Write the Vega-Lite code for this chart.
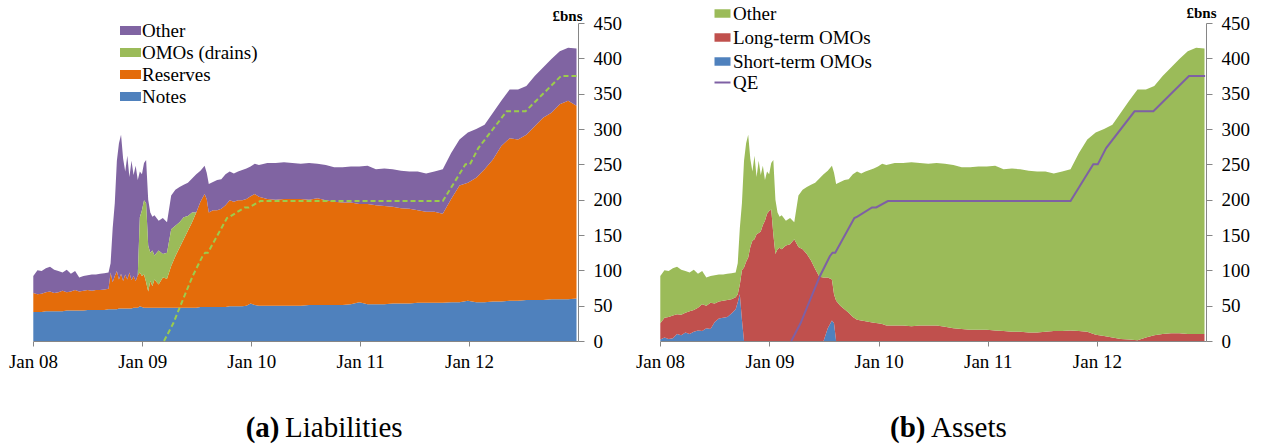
{
"$schema":"https://vega.github.io/schema/vega-lite/v6.json",
"autosize":{"type":"pad"},
"padding":{"left":8,"top":4,"right":5,"bottom":4},
"bounds":"flush",
"spacing":82,
"resolve":{"scale":{"color":"independent","stroke":"independent"},"legend":{"color":"independent","stroke":"independent"}},
"config":{"font":"Liberation Serif, Times New Roman, Times, serif","view":{"stroke":null},"axis":{"grid":false,"labelColor":"#000","domainColor":"#868686","tickColor":"#868686","labelFont":"Liberation Serif, Times New Roman, Times, serif","labelFontSize":19,"titleColor":"#000","titleFont":"Liberation Serif, Times New Roman, Times, serif","labelOverlap":false},"axisY":{"labelOverlap":false},"legend":{"labelFont":"Liberation Serif, Times New Roman, Times, serif","labelFontSize":19,"labelColor":"#000"}},
"datasets":{
"qe":[{"d":"2009-03-15","v":0},{"d":"2009-04-15","v":25},{"d":"2009-05-08","v":49},{"d":"2009-06-19","v":92},{"d":"2009-07-22","v":120},{"d":"2009-07-31","v":125},{"d":"2009-08-09","v":125},{"d":"2009-10-12","v":174},{"d":"2009-10-22","v":176},{"d":"2009-12-10","v":189},{"d":"2009-12-24","v":189},{"d":"2010-02-01","v":198},{"d":"2011-10-05","v":198},{"d":"2011-12-20","v":250},{"d":"2012-01-04","v":250},{"d":"2012-02-01","v":273},{"d":"2012-05-06","v":325},{"d":"2012-07-08","v":325},{"d":"2012-11-04","v":375},{"d":"2012-12-28","v":375}],
"liab":[
{"d":"2008-01-02","s":"Notes","v":41},{"d":"2008-01-02","s":"Reserves","v":27},{"d":"2008-01-02","s":"Other","v":24},
{"d":"2008-01-16","s":"Notes","v":41},{"d":"2008-01-16","s":"Reserves","v":25},{"d":"2008-01-16","s":"Other","v":34},
{"d":"2008-01-30","s":"Notes","v":41},{"d":"2008-01-30","s":"Reserves","v":26},{"d":"2008-01-30","s":"Other","v":32},
{"d":"2008-02-13","s":"Notes","v":42},{"d":"2008-02-13","s":"Reserves","v":27},{"d":"2008-02-13","s":"Other","v":34},
{"d":"2008-02-27","s":"Notes","v":42},{"d":"2008-02-27","s":"Reserves","v":28},{"d":"2008-02-27","s":"Other","v":35},
{"d":"2008-03-12","s":"Notes","v":42},{"d":"2008-03-12","s":"Reserves","v":26},{"d":"2008-03-12","s":"Other","v":33},
{"d":"2008-03-26","s":"Notes","v":42},{"d":"2008-03-26","s":"Reserves","v":27},{"d":"2008-03-26","s":"Other","v":30},
{"d":"2008-04-09","s":"Notes","v":42},{"d":"2008-04-09","s":"Reserves","v":29},{"d":"2008-04-09","s":"Other","v":26},
{"d":"2008-04-23","s":"Notes","v":43},{"d":"2008-04-23","s":"Reserves","v":26},{"d":"2008-04-23","s":"Other","v":32},
{"d":"2008-05-07","s":"Notes","v":43},{"d":"2008-05-07","s":"Reserves","v":27},{"d":"2008-05-07","s":"Other","v":25},
{"d":"2008-05-21","s":"Notes","v":43},{"d":"2008-05-21","s":"Reserves","v":29},{"d":"2008-05-21","s":"Other","v":27},
{"d":"2008-06-04","s":"Notes","v":43},{"d":"2008-06-04","s":"Reserves","v":27},{"d":"2008-06-04","s":"Other","v":20},
{"d":"2008-06-18","s":"Notes","v":43},{"d":"2008-06-18","s":"Reserves","v":28},{"d":"2008-06-18","s":"Other","v":21},
{"d":"2008-07-02","s":"Notes","v":44},{"d":"2008-07-02","s":"Reserves","v":28},{"d":"2008-07-02","s":"Other","v":21},
{"d":"2008-07-16","s":"Notes","v":44},{"d":"2008-07-16","s":"Reserves","v":27},{"d":"2008-07-16","s":"Other","v":23},
{"d":"2008-07-30","s":"Notes","v":44},{"d":"2008-07-30","s":"Reserves","v":28},{"d":"2008-07-30","s":"Other","v":22},
{"d":"2008-08-13","s":"Notes","v":44},{"d":"2008-08-13","s":"Reserves","v":28},{"d":"2008-08-13","s":"Other","v":23},
{"d":"2008-08-27","s":"Notes","v":44},{"d":"2008-08-27","s":"Reserves","v":29},{"d":"2008-08-27","s":"Other","v":23},
{"d":"2008-09-10","s":"Notes","v":45},{"d":"2008-09-10","s":"Reserves","v":29},{"d":"2008-09-10","s":"Other","v":23},
{"d":"2008-09-17","s":"Notes","v":45},{"d":"2008-09-17","s":"Reserves","v":52},{"d":"2008-09-17","s":"Other","v":13},
{"d":"2008-09-24","s":"Notes","v":45},{"d":"2008-09-24","s":"Reserves","v":38},{"d":"2008-09-24","s":"Other","v":77},
{"d":"2008-10-01","s":"Notes","v":45},{"d":"2008-10-01","s":"Reserves","v":47},{"d":"2008-10-01","s":"Other","v":103},
{"d":"2008-10-08","s":"Notes","v":45},{"d":"2008-10-08","s":"Reserves","v":54},{"d":"2008-10-08","s":"Other","v":156},
{"d":"2008-10-15","s":"Notes","v":46},{"d":"2008-10-15","s":"Reserves","v":41},{"d":"2008-10-15","s":"Other","v":193},
{"d":"2008-10-22","s":"Notes","v":46},{"d":"2008-10-22","s":"Reserves","v":49},{"d":"2008-10-22","s":"Other","v":197},
{"d":"2008-10-29","s":"Notes","v":46},{"d":"2008-10-29","s":"Reserves","v":39},{"d":"2008-10-29","s":"Other","v":173},
{"d":"2008-11-05","s":"Notes","v":46},{"d":"2008-11-05","s":"Reserves","v":48},{"d":"2008-11-05","s":"Other","v":146},
{"d":"2008-11-12","s":"Notes","v":46},{"d":"2008-11-12","s":"Reserves","v":41},{"d":"2008-11-12","s":"Other","v":175},
{"d":"2008-11-19","s":"Notes","v":46},{"d":"2008-11-19","s":"Reserves","v":51},{"d":"2008-11-19","s":"Other","v":135},
{"d":"2008-11-26","s":"Notes","v":46},{"d":"2008-11-26","s":"Reserves","v":40},{"d":"2008-11-26","s":"Other","v":169},
{"d":"2008-12-03","s":"Notes","v":47},{"d":"2008-12-03","s":"Reserves","v":45},{"d":"2008-12-03","s":"Other","v":143},
{"d":"2008-12-10","s":"Notes","v":47},{"d":"2008-12-10","s":"Reserves","v":38},{"d":"2008-12-10","s":"Other","v":163},
{"d":"2008-12-17","s":"Notes","v":47},{"d":"2008-12-17","s":"Reserves","v":46},{"d":"2008-12-17","s":"OMOs (drains)","v":0},{"d":"2008-12-17","s":"Other","v":135},
{"d":"2008-12-24","s":"Notes","v":49},{"d":"2008-12-24","s":"Reserves","v":48},{"d":"2008-12-24","s":"OMOs (drains)","v":78},{"d":"2008-12-24","s":"Other","v":65},
{"d":"2008-12-31","s":"Notes","v":48},{"d":"2008-12-31","s":"Reserves","v":44},{"d":"2008-12-31","s":"OMOs (drains)","v":93},{"d":"2008-12-31","s":"Other","v":51},
{"d":"2009-01-07","s":"Notes","v":47},{"d":"2009-01-07","s":"Reserves","v":47},{"d":"2009-01-07","s":"OMOs (drains)","v":105},{"d":"2009-01-07","s":"Other","v":53},
{"d":"2009-01-14","s":"Notes","v":47},{"d":"2009-01-14","s":"Reserves","v":36},{"d":"2009-01-14","s":"OMOs (drains)","v":112},{"d":"2009-01-14","s":"Other","v":61},
{"d":"2009-01-21","s":"Notes","v":47},{"d":"2009-01-21","s":"Reserves","v":23},{"d":"2009-01-21","s":"OMOs (drains)","v":65},{"d":"2009-01-21","s":"Other","v":65},
{"d":"2009-01-28","s":"Notes","v":47},{"d":"2009-01-28","s":"Reserves","v":38},{"d":"2009-01-28","s":"OMOs (drains)","v":40},{"d":"2009-01-28","s":"Other","v":57},
{"d":"2009-02-04","s":"Notes","v":47},{"d":"2009-02-04","s":"Reserves","v":31},{"d":"2009-02-04","s":"OMOs (drains)","v":50},{"d":"2009-02-04","s":"Other","v":48},
{"d":"2009-02-11","s":"Notes","v":47},{"d":"2009-02-11","s":"Reserves","v":40},{"d":"2009-02-11","s":"OMOs (drains)","v":34},{"d":"2009-02-11","s":"Other","v":57},
{"d":"2009-02-25","s":"Notes","v":47},{"d":"2009-02-25","s":"Reserves","v":33},{"d":"2009-02-25","s":"OMOs (drains)","v":48},{"d":"2009-02-25","s":"Other","v":42},
{"d":"2009-03-11","s":"Notes","v":47},{"d":"2009-03-11","s":"Reserves","v":43},{"d":"2009-03-11","s":"OMOs (drains)","v":33},{"d":"2009-03-11","s":"Other","v":51},
{"d":"2009-03-25","s":"Notes","v":47},{"d":"2009-03-25","s":"Reserves","v":41},{"d":"2009-03-25","s":"OMOs (drains)","v":37},{"d":"2009-03-25","s":"Other","v":43},
{"d":"2009-04-08","s":"Notes","v":47},{"d":"2009-04-08","s":"Reserves","v":59},{"d":"2009-04-08","s":"OMOs (drains)","v":52},{"d":"2009-04-08","s":"Other","v":48},
{"d":"2009-04-22","s":"Notes","v":47},{"d":"2009-04-22","s":"Reserves","v":73},{"d":"2009-04-22","s":"OMOs (drains)","v":43},{"d":"2009-04-22","s":"Other","v":51},
{"d":"2009-05-06","s":"Notes","v":47},{"d":"2009-05-06","s":"Reserves","v":85},{"d":"2009-05-06","s":"OMOs (drains)","v":36},{"d":"2009-05-06","s":"Other","v":50},
{"d":"2009-05-20","s":"Notes","v":47},{"d":"2009-05-20","s":"Reserves","v":97},{"d":"2009-05-20","s":"OMOs (drains)","v":31},{"d":"2009-05-20","s":"Other","v":46},
{"d":"2009-06-03","s":"Notes","v":47},{"d":"2009-06-03","s":"Reserves","v":109},{"d":"2009-06-03","s":"OMOs (drains)","v":21},{"d":"2009-06-03","s":"Other","v":47},
{"d":"2009-06-17","s":"Notes","v":47},{"d":"2009-06-17","s":"Reserves","v":121},{"d":"2009-06-17","s":"OMOs (drains)","v":14},{"d":"2009-06-17","s":"Other","v":48},
{"d":"2009-07-01","s":"Notes","v":47},{"d":"2009-07-01","s":"Reserves","v":135},{"d":"2009-07-01","s":"OMOs (drains)","v":0},{"d":"2009-07-01","s":"Other","v":54},
{"d":"2009-07-15","s":"Notes","v":48},{"d":"2009-07-15","s":"Reserves","v":149},{"d":"2009-07-15","s":"Other","v":44},
{"d":"2009-07-29","s":"Notes","v":48},{"d":"2009-07-29","s":"Reserves","v":160},{"d":"2009-07-29","s":"Other","v":40},
{"d":"2009-08-05","s":"Notes","v":48},{"d":"2009-08-05","s":"Reserves","v":153},{"d":"2009-08-05","s":"Other","v":37},
{"d":"2009-08-12","s":"Notes","v":48},{"d":"2009-08-12","s":"Reserves","v":134},{"d":"2009-08-12","s":"Other","v":40},
{"d":"2009-08-26","s":"Notes","v":48},{"d":"2009-08-26","s":"Reserves","v":137},{"d":"2009-08-26","s":"Other","v":40},
{"d":"2009-09-09","s":"Notes","v":48},{"d":"2009-09-09","s":"Reserves","v":137},{"d":"2009-09-09","s":"Other","v":43},
{"d":"2009-09-23","s":"Notes","v":48},{"d":"2009-09-23","s":"Reserves","v":139},{"d":"2009-09-23","s":"Other","v":42},
{"d":"2009-10-07","s":"Notes","v":48},{"d":"2009-10-07","s":"Reserves","v":144},{"d":"2009-10-07","s":"Other","v":44},
{"d":"2009-10-21","s":"Notes","v":49},{"d":"2009-10-21","s":"Reserves","v":150},{"d":"2009-10-21","s":"Other","v":41},
{"d":"2009-11-04","s":"Notes","v":49},{"d":"2009-11-04","s":"Reserves","v":148},{"d":"2009-11-04","s":"Other","v":40},
{"d":"2009-11-18","s":"Notes","v":49},{"d":"2009-11-18","s":"Reserves","v":150},{"d":"2009-11-18","s":"Other","v":41},
{"d":"2009-12-02","s":"Notes","v":49},{"d":"2009-12-02","s":"Reserves","v":150},{"d":"2009-12-02","s":"Other","v":43},
{"d":"2009-12-16","s":"Notes","v":50},{"d":"2009-12-16","s":"Reserves","v":151},{"d":"2009-12-16","s":"Other","v":43},
{"d":"2009-12-30","s":"Notes","v":53},{"d":"2009-12-30","s":"Reserves","v":152},{"d":"2009-12-30","s":"Other","v":42},
{"d":"2010-01-13","s":"Notes","v":51},{"d":"2010-01-13","s":"Reserves","v":157},{"d":"2010-01-13","s":"Other","v":43},
{"d":"2010-01-27","s":"Notes","v":50},{"d":"2010-01-27","s":"Reserves","v":154},{"d":"2010-01-27","s":"Other","v":45},
{"d":"2010-02-24","s":"Notes","v":50},{"d":"2010-02-24","s":"Reserves","v":151},{"d":"2010-02-24","s":"Other","v":51},
{"d":"2010-03-24","s":"Notes","v":50},{"d":"2010-03-24","s":"Reserves","v":150},{"d":"2010-03-24","s":"Other","v":52},
{"d":"2010-04-21","s":"Notes","v":50},{"d":"2010-04-21","s":"Reserves","v":151},{"d":"2010-04-21","s":"Other","v":52},
{"d":"2010-05-19","s":"Notes","v":50},{"d":"2010-05-19","s":"Reserves","v":151},{"d":"2010-05-19","s":"Other","v":51},
{"d":"2010-06-16","s":"Notes","v":50},{"d":"2010-06-16","s":"Reserves","v":151},{"d":"2010-06-16","s":"Other","v":50},
{"d":"2010-07-14","s":"Notes","v":51},{"d":"2010-07-14","s":"Reserves","v":149},{"d":"2010-07-14","s":"Other","v":52},
{"d":"2010-08-11","s":"Notes","v":51},{"d":"2010-08-11","s":"Reserves","v":151},{"d":"2010-08-11","s":"Other","v":49},
{"d":"2010-09-08","s":"Notes","v":51},{"d":"2010-09-08","s":"Reserves","v":148},{"d":"2010-09-08","s":"Other","v":50},
{"d":"2010-10-06","s":"Notes","v":51},{"d":"2010-10-06","s":"Reserves","v":146},{"d":"2010-10-06","s":"Other","v":49},
{"d":"2010-11-03","s":"Notes","v":51},{"d":"2010-11-03","s":"Reserves","v":145},{"d":"2010-11-03","s":"Other","v":50},
{"d":"2010-12-01","s":"Notes","v":52},{"d":"2010-12-01","s":"Reserves","v":144},{"d":"2010-12-01","s":"Other","v":51},
{"d":"2010-12-29","s":"Notes","v":55},{"d":"2010-12-29","s":"Reserves","v":139},{"d":"2010-12-29","s":"Other","v":53},
{"d":"2011-01-26","s":"Notes","v":52},{"d":"2011-01-26","s":"Reserves","v":142},{"d":"2011-01-26","s":"Other","v":54},
{"d":"2011-02-23","s":"Notes","v":52},{"d":"2011-02-23","s":"Reserves","v":140},{"d":"2011-02-23","s":"Other","v":51},
{"d":"2011-03-23","s":"Notes","v":52},{"d":"2011-03-23","s":"Reserves","v":139},{"d":"2011-03-23","s":"Other","v":53},
{"d":"2011-04-20","s":"Notes","v":53},{"d":"2011-04-20","s":"Reserves","v":137},{"d":"2011-04-20","s":"Other","v":53},
{"d":"2011-05-18","s":"Notes","v":53},{"d":"2011-05-18","s":"Reserves","v":135},{"d":"2011-05-18","s":"Other","v":53},
{"d":"2011-06-15","s":"Notes","v":53},{"d":"2011-06-15","s":"Reserves","v":134},{"d":"2011-06-15","s":"Other","v":53},
{"d":"2011-07-13","s":"Notes","v":54},{"d":"2011-07-13","s":"Reserves","v":131},{"d":"2011-07-13","s":"Other","v":55},
{"d":"2011-08-10","s":"Notes","v":54},{"d":"2011-08-10","s":"Reserves","v":129},{"d":"2011-08-10","s":"Other","v":54},
{"d":"2011-09-07","s":"Notes","v":54},{"d":"2011-09-07","s":"Reserves","v":129},{"d":"2011-09-07","s":"Other","v":57},
{"d":"2011-10-05","s":"Notes","v":54},{"d":"2011-10-05","s":"Reserves","v":126},{"d":"2011-10-05","s":"Other","v":63},
{"d":"2011-11-02","s":"Notes","v":55},{"d":"2011-11-02","s":"Reserves","v":146},{"d":"2011-11-02","s":"Other","v":65},
{"d":"2011-11-30","s":"Notes","v":55},{"d":"2011-11-30","s":"Reserves","v":165},{"d":"2011-11-30","s":"Other","v":65},
{"d":"2011-12-28","s":"Notes","v":57},{"d":"2011-12-28","s":"Reserves","v":167},{"d":"2011-12-28","s":"Other","v":71},
{"d":"2012-01-25","s":"Notes","v":55},{"d":"2012-01-25","s":"Reserves","v":176},{"d":"2012-01-25","s":"Other","v":69},
{"d":"2012-02-22","s":"Notes","v":55},{"d":"2012-02-22","s":"Reserves","v":188},{"d":"2012-02-22","s":"Other","v":63},
{"d":"2012-03-21","s":"Notes","v":56},{"d":"2012-03-21","s":"Reserves","v":201},{"d":"2012-03-21","s":"Other","v":66},
{"d":"2012-04-18","s":"Notes","v":56},{"d":"2012-04-18","s":"Reserves","v":220},{"d":"2012-04-18","s":"Other","v":64},
{"d":"2012-05-16","s":"Notes","v":57},{"d":"2012-05-16","s":"Reserves","v":230},{"d":"2012-05-16","s":"Other","v":69},
{"d":"2012-06-13","s":"Notes","v":57},{"d":"2012-06-13","s":"Reserves","v":228},{"d":"2012-06-13","s":"Other","v":71},
{"d":"2012-07-11","s":"Notes","v":58},{"d":"2012-07-11","s":"Reserves","v":234},{"d":"2012-07-11","s":"Other","v":69},
{"d":"2012-08-08","s":"Notes","v":58},{"d":"2012-08-08","s":"Reserves","v":246},{"d":"2012-08-08","s":"Other","v":71},
{"d":"2012-09-05","s":"Notes","v":58},{"d":"2012-09-05","s":"Reserves","v":258},{"d":"2012-09-05","s":"Other","v":71},
{"d":"2012-10-03","s":"Notes","v":59},{"d":"2012-10-03","s":"Reserves","v":264},{"d":"2012-10-03","s":"Other","v":76},
{"d":"2012-10-31","s":"Notes","v":59},{"d":"2012-10-31","s":"Reserves","v":276},{"d":"2012-10-31","s":"Other","v":75},
{"d":"2012-11-28","s":"Notes","v":59},{"d":"2012-11-28","s":"Reserves","v":281},{"d":"2012-11-28","s":"Other","v":75},
{"d":"2012-12-26","s":"Notes","v":60},{"d":"2012-12-26","s":"Reserves","v":273},{"d":"2012-12-26","s":"Other","v":81}
],
"assets":[
{"d":"2008-01-02","s":"Short-term OMOs","v":2},{"d":"2008-01-02","s":"Long-term OMOs","v":23},{"d":"2008-01-02","s":"Other","v":67},
{"d":"2008-01-16","s":"Short-term OMOs","v":5},{"d":"2008-01-16","s":"Long-term OMOs","v":28},{"d":"2008-01-16","s":"Other","v":67},
{"d":"2008-01-30","s":"Short-term OMOs","v":3},{"d":"2008-01-30","s":"Long-term OMOs","v":31},{"d":"2008-01-30","s":"Other","v":65},
{"d":"2008-02-13","s":"Short-term OMOs","v":4},{"d":"2008-02-13","s":"Long-term OMOs","v":32},{"d":"2008-02-13","s":"Other","v":67},
{"d":"2008-02-27","s":"Short-term OMOs","v":10},{"d":"2008-02-27","s":"Long-term OMOs","v":28},{"d":"2008-02-27","s":"Other","v":67},
{"d":"2008-03-12","s":"Short-term OMOs","v":8},{"d":"2008-03-12","s":"Long-term OMOs","v":29},{"d":"2008-03-12","s":"Other","v":64},
{"d":"2008-03-26","s":"Short-term OMOs","v":12},{"d":"2008-03-26","s":"Long-term OMOs","v":28},{"d":"2008-03-26","s":"Other","v":59},
{"d":"2008-04-09","s":"Short-term OMOs","v":10},{"d":"2008-04-09","s":"Long-term OMOs","v":32},{"d":"2008-04-09","s":"Other","v":55},
{"d":"2008-04-23","s":"Short-term OMOs","v":13},{"d":"2008-04-23","s":"Long-term OMOs","v":31},{"d":"2008-04-23","s":"Other","v":57},
{"d":"2008-05-07","s":"Short-term OMOs","v":15},{"d":"2008-05-07","s":"Long-term OMOs","v":32},{"d":"2008-05-07","s":"Other","v":48},
{"d":"2008-05-21","s":"Short-term OMOs","v":14},{"d":"2008-05-21","s":"Long-term OMOs","v":38},{"d":"2008-05-21","s":"Other","v":47},
{"d":"2008-06-04","s":"Short-term OMOs","v":18},{"d":"2008-06-04","s":"Long-term OMOs","v":32},{"d":"2008-06-04","s":"Other","v":40},
{"d":"2008-06-18","s":"Short-term OMOs","v":17},{"d":"2008-06-18","s":"Long-term OMOs","v":37},{"d":"2008-06-18","s":"Other","v":38},
{"d":"2008-07-02","s":"Short-term OMOs","v":27},{"d":"2008-07-02","s":"Long-term OMOs","v":26},{"d":"2008-07-02","s":"Other","v":40},
{"d":"2008-07-16","s":"Short-term OMOs","v":32},{"d":"2008-07-16","s":"Long-term OMOs","v":24},{"d":"2008-07-16","s":"Other","v":38},
{"d":"2008-07-30","s":"Short-term OMOs","v":33},{"d":"2008-07-30","s":"Long-term OMOs","v":24},{"d":"2008-07-30","s":"Other","v":37},
{"d":"2008-08-13","s":"Short-term OMOs","v":34},{"d":"2008-08-13","s":"Long-term OMOs","v":24},{"d":"2008-08-13","s":"Other","v":37},
{"d":"2008-08-27","s":"Short-term OMOs","v":39},{"d":"2008-08-27","s":"Long-term OMOs","v":20},{"d":"2008-08-27","s":"Other","v":37},
{"d":"2008-09-10","s":"Short-term OMOs","v":45},{"d":"2008-09-10","s":"Long-term OMOs","v":17},{"d":"2008-09-10","s":"Other","v":35},
{"d":"2008-09-17","s":"Short-term OMOs","v":55},{"d":"2008-09-17","s":"Long-term OMOs","v":11},{"d":"2008-09-17","s":"Other","v":44},
{"d":"2008-09-24","s":"Short-term OMOs","v":66},{"d":"2008-09-24","s":"Long-term OMOs","v":14},{"d":"2008-09-24","s":"Other","v":80},
{"d":"2008-10-01","s":"Short-term OMOs","v":30},{"d":"2008-10-01","s":"Long-term OMOs","v":70},{"d":"2008-10-01","s":"Other","v":95},
{"d":"2008-10-08","s":"Short-term OMOs","v":0},{"d":"2008-10-08","s":"Long-term OMOs","v":104},{"d":"2008-10-08","s":"Other","v":151},
{"d":"2008-10-15","s":"Long-term OMOs","v":112},{"d":"2008-10-15","s":"Other","v":168},
{"d":"2008-10-22","s":"Long-term OMOs","v":118},{"d":"2008-10-22","s":"Other","v":174},
{"d":"2008-10-29","s":"Long-term OMOs","v":133},{"d":"2008-10-29","s":"Other","v":125},
{"d":"2008-11-05","s":"Long-term OMOs","v":142},{"d":"2008-11-05","s":"Other","v":98},
{"d":"2008-11-12","s":"Long-term OMOs","v":144},{"d":"2008-11-12","s":"Other","v":118},
{"d":"2008-11-19","s":"Long-term OMOs","v":151},{"d":"2008-11-19","s":"Other","v":81},
{"d":"2008-11-26","s":"Long-term OMOs","v":153},{"d":"2008-11-26","s":"Other","v":102},
{"d":"2008-12-03","s":"Long-term OMOs","v":155},{"d":"2008-12-03","s":"Other","v":80},
{"d":"2008-12-10","s":"Long-term OMOs","v":164},{"d":"2008-12-10","s":"Other","v":84},
{"d":"2008-12-17","s":"Long-term OMOs","v":170},{"d":"2008-12-17","s":"Other","v":58},
{"d":"2008-12-24","s":"Long-term OMOs","v":180},{"d":"2008-12-24","s":"Other","v":60},
{"d":"2008-12-31","s":"Long-term OMOs","v":184},{"d":"2008-12-31","s":"Other","v":52},
{"d":"2009-01-07","s":"Long-term OMOs","v":186},{"d":"2009-01-07","s":"Other","v":66},
{"d":"2009-01-14","s":"Long-term OMOs","v":151},{"d":"2009-01-14","s":"Other","v":105},
{"d":"2009-01-21","s":"Long-term OMOs","v":123},{"d":"2009-01-21","s":"Other","v":77},
{"d":"2009-01-28","s":"Long-term OMOs","v":130},{"d":"2009-01-28","s":"Other","v":52},
{"d":"2009-02-04","s":"Long-term OMOs","v":132},{"d":"2009-02-04","s":"Other","v":44},
{"d":"2009-02-11","s":"Long-term OMOs","v":130},{"d":"2009-02-11","s":"Other","v":48},
{"d":"2009-02-25","s":"Long-term OMOs","v":135},{"d":"2009-02-25","s":"Other","v":35},
{"d":"2009-03-11","s":"Long-term OMOs","v":137},{"d":"2009-03-11","s":"Other","v":37},
{"d":"2009-03-25","s":"Long-term OMOs","v":144},{"d":"2009-03-25","s":"Other","v":24},
{"d":"2009-04-08","s":"Long-term OMOs","v":133},{"d":"2009-04-08","s":"Other","v":73},
{"d":"2009-04-22","s":"Long-term OMOs","v":130},{"d":"2009-04-22","s":"Other","v":84},
{"d":"2009-05-06","s":"Long-term OMOs","v":123},{"d":"2009-05-06","s":"Other","v":95},
{"d":"2009-05-20","s":"Long-term OMOs","v":114},{"d":"2009-05-20","s":"Other","v":107},
{"d":"2009-06-03","s":"Long-term OMOs","v":102},{"d":"2009-06-03","s":"Other","v":122},
{"d":"2009-06-17","s":"Long-term OMOs","v":91},{"d":"2009-06-17","s":"Other","v":139},
{"d":"2009-07-01","s":"Short-term OMOs","v":0},{"d":"2009-07-01","s":"Long-term OMOs","v":90},{"d":"2009-07-01","s":"Other","v":146},
{"d":"2009-07-15","s":"Short-term OMOs","v":18},{"d":"2009-07-15","s":"Long-term OMOs","v":72},{"d":"2009-07-15","s":"Other","v":151},
{"d":"2009-07-29","s":"Short-term OMOs","v":29},{"d":"2009-07-29","s":"Long-term OMOs","v":58},{"d":"2009-07-29","s":"Other","v":161},
{"d":"2009-08-05","s":"Short-term OMOs","v":25},{"d":"2009-08-05","s":"Long-term OMOs","v":41},{"d":"2009-08-05","s":"Other","v":172},
{"d":"2009-08-12","s":"Short-term OMOs","v":0},{"d":"2009-08-12","s":"Long-term OMOs","v":57},{"d":"2009-08-12","s":"Other","v":165},
{"d":"2009-08-26","s":"Long-term OMOs","v":50},{"d":"2009-08-26","s":"Other","v":175},
{"d":"2009-09-09","s":"Long-term OMOs","v":45},{"d":"2009-09-09","s":"Other","v":183},
{"d":"2009-09-23","s":"Long-term OMOs","v":40},{"d":"2009-09-23","s":"Other","v":189},
{"d":"2009-10-07","s":"Long-term OMOs","v":34},{"d":"2009-10-07","s":"Other","v":202},
{"d":"2009-10-21","s":"Long-term OMOs","v":30},{"d":"2009-10-21","s":"Other","v":210},
{"d":"2009-11-04","s":"Long-term OMOs","v":29},{"d":"2009-11-04","s":"Other","v":208},
{"d":"2009-11-18","s":"Long-term OMOs","v":28},{"d":"2009-11-18","s":"Other","v":212},
{"d":"2009-12-02","s":"Long-term OMOs","v":27},{"d":"2009-12-02","s":"Other","v":215},
{"d":"2009-12-16","s":"Long-term OMOs","v":26},{"d":"2009-12-16","s":"Other","v":218},
{"d":"2009-12-30","s":"Long-term OMOs","v":25},{"d":"2009-12-30","s":"Other","v":222},
{"d":"2010-01-13","s":"Long-term OMOs","v":24},{"d":"2010-01-13","s":"Other","v":227},
{"d":"2010-01-27","s":"Long-term OMOs","v":22},{"d":"2010-01-27","s":"Other","v":227},
{"d":"2010-02-24","s":"Long-term OMOs","v":22},{"d":"2010-02-24","s":"Other","v":230},
{"d":"2010-03-24","s":"Long-term OMOs","v":22},{"d":"2010-03-24","s":"Other","v":230},
{"d":"2010-04-21","s":"Long-term OMOs","v":21},{"d":"2010-04-21","s":"Other","v":232},
{"d":"2010-05-19","s":"Long-term OMOs","v":22},{"d":"2010-05-19","s":"Other","v":230},
{"d":"2010-06-16","s":"Long-term OMOs","v":22},{"d":"2010-06-16","s":"Other","v":229},
{"d":"2010-07-14","s":"Long-term OMOs","v":22},{"d":"2010-07-14","s":"Other","v":230},
{"d":"2010-08-11","s":"Long-term OMOs","v":20},{"d":"2010-08-11","s":"Other","v":231},
{"d":"2010-09-08","s":"Long-term OMOs","v":18},{"d":"2010-09-08","s":"Other","v":231},
{"d":"2010-10-06","s":"Long-term OMOs","v":17},{"d":"2010-10-06","s":"Other","v":229},
{"d":"2010-11-03","s":"Long-term OMOs","v":16},{"d":"2010-11-03","s":"Other","v":230},
{"d":"2010-12-01","s":"Long-term OMOs","v":16},{"d":"2010-12-01","s":"Other","v":231},
{"d":"2010-12-29","s":"Long-term OMOs","v":16},{"d":"2010-12-29","s":"Other","v":231},
{"d":"2011-01-26","s":"Long-term OMOs","v":15},{"d":"2011-01-26","s":"Other","v":233},
{"d":"2011-02-23","s":"Long-term OMOs","v":14},{"d":"2011-02-23","s":"Other","v":229},
{"d":"2011-03-23","s":"Long-term OMOs","v":13},{"d":"2011-03-23","s":"Other","v":231},
{"d":"2011-04-20","s":"Long-term OMOs","v":13},{"d":"2011-04-20","s":"Other","v":230},
{"d":"2011-05-18","s":"Long-term OMOs","v":12},{"d":"2011-05-18","s":"Other","v":229},
{"d":"2011-06-15","s":"Long-term OMOs","v":12},{"d":"2011-06-15","s":"Other","v":228},
{"d":"2011-07-13","s":"Long-term OMOs","v":13},{"d":"2011-07-13","s":"Other","v":227},
{"d":"2011-08-10","s":"Long-term OMOs","v":14},{"d":"2011-08-10","s":"Other","v":223},
{"d":"2011-09-07","s":"Long-term OMOs","v":14},{"d":"2011-09-07","s":"Other","v":226},
{"d":"2011-10-05","s":"Long-term OMOs","v":15},{"d":"2011-10-05","s":"Other","v":228},
{"d":"2011-11-02","s":"Long-term OMOs","v":14},{"d":"2011-11-02","s":"Other","v":252},
{"d":"2011-11-30","s":"Long-term OMOs","v":13},{"d":"2011-11-30","s":"Other","v":272},
{"d":"2011-12-28","s":"Long-term OMOs","v":9},{"d":"2011-12-28","s":"Other","v":286},
{"d":"2012-01-25","s":"Long-term OMOs","v":7},{"d":"2012-01-25","s":"Other","v":293},
{"d":"2012-02-22","s":"Long-term OMOs","v":5},{"d":"2012-02-22","s":"Other","v":301},
{"d":"2012-03-21","s":"Long-term OMOs","v":3},{"d":"2012-03-21","s":"Other","v":320},
{"d":"2012-04-18","s":"Long-term OMOs","v":2},{"d":"2012-04-18","s":"Other","v":338},
{"d":"2012-05-16","s":"Long-term OMOs","v":1},{"d":"2012-05-16","s":"Other","v":355},
{"d":"2012-06-13","s":"Long-term OMOs","v":5},{"d":"2012-06-13","s":"Other","v":351},
{"d":"2012-07-11","s":"Long-term OMOs","v":8},{"d":"2012-07-11","s":"Other","v":353},
{"d":"2012-08-08","s":"Long-term OMOs","v":10},{"d":"2012-08-08","s":"Other","v":365},
{"d":"2012-09-05","s":"Long-term OMOs","v":11},{"d":"2012-09-05","s":"Other","v":376},
{"d":"2012-10-03","s":"Long-term OMOs","v":11},{"d":"2012-10-03","s":"Other","v":388},
{"d":"2012-10-31","s":"Long-term OMOs","v":10},{"d":"2012-10-31","s":"Other","v":400},
{"d":"2012-11-28","s":"Long-term OMOs","v":10},{"d":"2012-11-28","s":"Other","v":405},
{"d":"2012-12-26","s":"Long-term OMOs","v":10},{"d":"2012-12-26","s":"Other","v":404}
]
},
"hconcat":[
{
"width":545,"height":318,
"title":{"text":"Liabilities","orient":"bottom","anchor":"start","frame":"group","dx":252,"offset":-5,"baseline":"alphabetic","font":"Liberation Serif, Times New Roman, Times, serif","fontSize":29,"fontWeight":"normal","color":"#000"},
"layer":[
{"data":{"name":"liab"},
"transform":[{"lookup":"s","from":{"data":{"values":[{"s":"Notes","k":1},{"s":"Reserves","k":2},{"s":"OMOs (drains)","k":3},{"s":"Other","k":4}]},"key":"s","fields":["k"]}}],
"mark":{"type":"area"},
"encoding":{
"x":{"field":"d","type":"temporal","title":"(a)","scale":{"type":"utc","domain":[{"year":2008,"month":1,"date":1,"utc":true},{"year":2012,"month":12,"date":31,"utc":true}]},
"axis":{"titleFontSize":29,"titleFontWeight":"bold","titleX":246,"titleY":95,"titleAlign":"right","titleBaseline":"alphabetic","titleAngle":0,"format":"%b %y","tickCount":{"interval":"year","step":1},"tickSize":5,"labelPadding":6,"labelFlush":false,"labelOverlap":false}},
"y":{"field":"v","type":"quantitative","stack":"zero","title":"£bns","scale":{"domain":[0,450],"nice":false},
"axis":{"orient":"right","titleAngle":0,"titleX":-11,"titleY":-8,"titleAlign":"center","titleBaseline":"middle","titleFontSize":15,"titleFontWeight":"bold","values":[0,50,100,150,200,250,300,350,400,450],"tickCount":10,"labelOverlap":false,"tickSize":6,"labelPadding":9}},
"color":{"field":"s","type":"nominal","scale":{"domain":["Other","OMOs (drains)","Reserves","Notes"],"range":["#8064A2","#9BBB59","#E46C0A","#4F81BD"]},
"legend":{"orient":"none","legendX":87,"legendY":-3,"title":null,"symbolType":"M-1,-0.43H1V0.43H-1Z","symbolSize":441,"symbolStrokeWidth":0,"symbolOpacity":1,"labelOffset":1,"rowPadding":1,"padding":0}},
"order":{"field":"k","type":"quantitative","sort":"ascending"}
}},
{"data":{"name":"qe"},"mark":{"type":"line","color":"#9CCC4C","strokeWidth":2,"strokeDash":[5,3]},
"encoding":{"x":{"field":"d","type":"temporal","title":"(a)","scale":{"type":"utc","domain":[{"year":2008,"month":1,"date":1,"utc":true},{"year":2012,"month":12,"date":31,"utc":true}]},
"axis":{"titleFontSize":29,"titleFontWeight":"bold","titleX":246,"titleY":95,"titleAlign":"right","titleBaseline":"alphabetic","titleAngle":0,"format":"%b %y","tickCount":{"interval":"year","step":1},"tickSize":5,"labelPadding":6,"labelFlush":false,"labelOverlap":false}},
"y":{"field":"v","type":"quantitative","title":"£bns","scale":{"domain":[0,450],"nice":false},
"axis":{"orient":"right","titleAngle":0,"titleX":-11,"titleY":-8,"titleAlign":"center","titleBaseline":"middle","titleFontSize":15,"titleFontWeight":"bold","values":[0,50,100,150,200,250,300,350,400,450],"tickCount":10,"labelOverlap":false,"tickSize":6,"labelPadding":9}}}}
]
},
{
"width":546,"height":318,
"title":{"text":"Assets","orient":"bottom","anchor":"start","frame":"group","dx":271,"offset":-5,"baseline":"alphabetic","font":"Liberation Serif, Times New Roman, Times, serif","fontSize":29,"fontWeight":"normal","color":"#000"},
"layer":[
{"data":{"name":"assets"},
"transform":[{"lookup":"s","from":{"data":{"values":[{"s":"Short-term OMOs","k":1},{"s":"Long-term OMOs","k":2},{"s":"Other","k":3}]},"key":"s","fields":["k"]}}],
"mark":{"type":"area"},
"encoding":{
"x":{"field":"d","type":"temporal","title":"(b)","scale":{"type":"utc","domain":[{"year":2008,"month":1,"date":1,"utc":true},{"year":2012,"month":12,"date":31,"utc":true}]},
"axis":{"titleFontSize":29,"titleFontWeight":"bold","titleX":265,"titleY":95,"titleAlign":"right","titleBaseline":"alphabetic","titleAngle":0,"format":"%b %y","tickCount":{"interval":"year","step":1},"tickSize":5,"labelPadding":6,"labelFlush":false,"labelOverlap":false}},
"y":{"field":"v","type":"quantitative","stack":"zero","title":"£bns","scale":{"domain":[0,450],"nice":false},
"axis":{"orient":"right","titleAngle":0,"titleX":-5,"titleY":-11,"titleAlign":"center","titleBaseline":"middle","titleFontSize":15,"titleFontWeight":"bold","values":[0,50,100,150,200,250,300,350,400,450],"tickCount":10,"labelOverlap":false,"tickSize":6,"labelPadding":9}},
"color":{"field":"s","type":"nominal","scale":{"domain":["Other","Long-term OMOs","Short-term OMOs"],"range":["#9BBB59","#C0504D","#4F81BD"]},
"legend":{"orient":"none","legendX":53,"legendY":-19,"title":null,"symbolType":"M-1,-0.53H1V0.53H-1Z","symbolSize":256,"symbolStrokeWidth":0,"symbolOpacity":1,"labelOffset":1,"rowPadding":4,"padding":0}},
"order":{"field":"k","type":"quantitative","sort":"ascending"}
}},
{"data":{"name":"qe"},"mark":{"type":"line","strokeWidth":2},
"encoding":{"x":{"field":"d","type":"temporal","title":"(b)","scale":{"type":"utc","domain":[{"year":2008,"month":1,"date":1,"utc":true},{"year":2012,"month":12,"date":31,"utc":true}]},
"axis":{"titleFontSize":29,"titleFontWeight":"bold","titleX":265,"titleY":95,"titleAlign":"right","titleBaseline":"alphabetic","titleAngle":0,"format":"%b %y","tickCount":{"interval":"year","step":1},"tickSize":5,"labelPadding":6,"labelFlush":false,"labelOverlap":false}},
"y":{"field":"v","type":"quantitative","title":"£bns","scale":{"domain":[0,450],"nice":false},
"axis":{"orient":"right","titleAngle":0,"titleX":-5,"titleY":-11,"titleAlign":"center","titleBaseline":"middle","titleFontSize":15,"titleFontWeight":"bold","values":[0,50,100,150,200,250,300,350,400,450],"tickCount":10,"labelOverlap":false,"tickSize":6,"labelPadding":9}},
"stroke":{"datum":"QE","type":"nominal","scale":{"domain":["QE"],"range":["#7E60A4"]},
"legend":{"orient":"none","legendX":53,"legendY":50,"title":null,"symbolType":"stroke","symbolSize":256,"symbolStrokeWidth":2,"labelOffset":1,"padding":0}}}}
]
}
]
}
